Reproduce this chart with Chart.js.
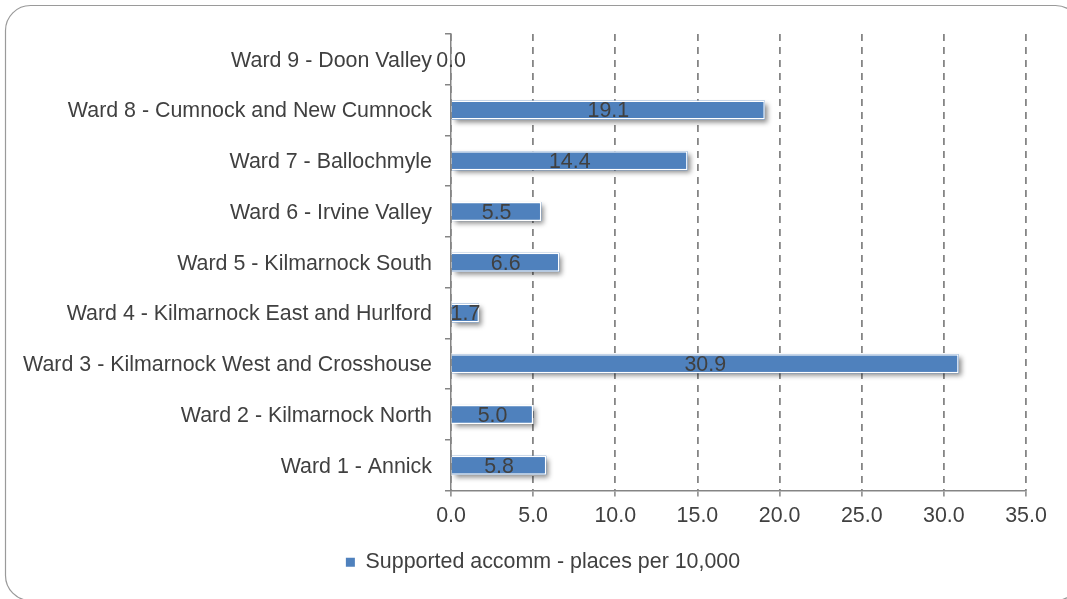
<!DOCTYPE html>
<html>
<head>
<meta charset="utf-8">
<title>Supported accommodation by ward</title>
<script src="https://cdn.jsdelivr.net/npm/chart.js@4.4.1/dist/chart.umd.min.js"></script>
<style>
  html, body { margin: 0; padding: 0; background: #fff; }
  #wrap { width: 1067px; height: 599px; }
</style>
</head>
<body>
<div id="wrap"><canvas id="wardChart" width="1067" height="599"></canvas></div>
<script>
  // wards, top to bottom as shown
  const wards = [
    "Ward 9 - Doon Valley",
    "Ward 8 - Cumnock and New Cumnock",
    "Ward 7 - Ballochmyle",
    "Ward 6 - Irvine Valley",
    "Ward 5 - Kilmarnock South",
    "Ward 4 - Kilmarnock East and Hurlford",
    "Ward 3 - Kilmarnock West and Crosshouse",
    "Ward 2 - Kilmarnock North",
    "Ward 1 - Annick"
  ];
  const placesPer10k = [0.0, 19.1, 14.4, 5.5, 6.6, 1.7, 30.9, 5.0, 5.8];
  const seriesName = "Supported accomm - places per 10,000";
  const axisMin = 0;
  const axisMax = 35;
  const axisStep = 5;

  const barBlue = "#4F81BD";
  const textGrey = "#404040";
  const lineGrey = "#858585";
  const fontSize = 21.4;

  Chart.defaults.font.family = '"Liberation Sans", Arial, sans-serif';
  Chart.defaults.font.size = fontSize;
  Chart.defaults.color = textGrey;

  // rounded frame round the whole chart
  const framePlugin = {
    id: "frame",
    beforeDraw(chart) {
      const ctx = chart.ctx;
      ctx.save();
      ctx.fillStyle = "#fff";
      ctx.fillRect(0, 0, chart.width, chart.height);
      ctx.strokeStyle = "#9a9a9a";
      ctx.lineWidth = 1.2;
      ctx.beginPath();
      ctx.roundRect(5.5, 5.5, 1075, 595, 25);
      ctx.stroke();
      ctx.restore();
    }
  };

  // legend sits in the middle of the frame, not of the plot
  const legendShift = {
    id: "legendShift",
    afterLayout(chart) {
      const lg = chart.legend;
      if (!lg) return;
      lg.left += 30;
      lg.right += 30;
    }
  };

  // soft drop shadow under each bar
  const shadowPlugin = {
    id: "barShadow",
    beforeDatasetsDraw(chart) {
      const ctx = chart.ctx;
      const meta = chart.getDatasetMeta(0);
      ctx.save();
      ctx.shadowColor = "rgba(0,0,0,0.45)";
      ctx.shadowBlur = 5;
      ctx.shadowOffsetX = 3;
      ctx.shadowOffsetY = 3;
      ctx.fillStyle = barBlue;
      meta.data.forEach(bar => {
        const w = Math.abs(bar.x - bar.base);
        if (w < 1) return;
        ctx.fillRect(Math.min(bar.x, bar.base), bar.y - bar.height / 2, w, bar.height);
      });
      ctx.restore();
    }
  };

  // value written in the middle of each bar
  const valueLabels = {
    id: "valueLabels",
    afterDatasetsDraw(chart) {
      const ctx = chart.ctx;
      const meta = chart.getDatasetMeta(0);
      const values = chart.data.datasets[0].data;
      ctx.save();
      ctx.font = fontSize + 'px "Liberation Sans", Arial, sans-serif';
      ctx.fillStyle = textGrey;
      ctx.textAlign = "center";
      ctx.textBaseline = "middle";
      meta.data.forEach((bar, i) => {
        ctx.fillText(values[i].toFixed(1), (bar.x + bar.base) / 2, bar.y + 1.5);
      });
      ctx.restore();
    }
  };

  new Chart(document.getElementById("wardChart"), {
    type: "bar",
    data: {
      labels: wards,
      datasets: [{
        label: seriesName,
        data: placesPer10k,
        backgroundColor: barBlue,
        borderColor: "#ffffff",
        borderWidth: 1.5,
        barPercentage: 0.375,
        categoryPercentage: 1
      }]
    },
    options: {
      indexAxis: "y",
      responsive: false,
      animation: false,
      devicePixelRatio: 1,
      layout: { padding: { left: 0, right: 41, top: 34, bottom: 16 } },
      scales: {
        x: {
          min: axisMin,
          max: axisMax,
          afterFit: scale => { scale.height = 51; },
          ticks: {
            stepSize: axisStep,
            padding: 7,
            color: textGrey,
            callback: v => Number(v).toFixed(1)
          },
          grid: {
            color: lineGrey,
            lineWidth: 1.8,
            tickLength: 6,
            tickColor: lineGrey,
            tickWidth: 1.5
          },
          border: { color: lineGrey, width: 1.5, dash: [7, 6] }
        },
        y: {
          afterFit: scale => { scale.width = 451; },
          ticks: { padding: 13, color: textGrey, autoSkip: false, labelOffset: 1.5 },
          grid: {
            drawOnChartArea: false,
            offset: true,
            tickLength: 6,
            color: lineGrey,
            lineWidth: 1.5
          },
          border: { color: lineGrey, width: 1.5 }
        }
      },
      plugins: {
        legend: {
          position: "bottom",
          labels: {
            boxWidth: 9,
            boxHeight: 9,
            padding: 10,
            color: textGrey,
            generateLabels: chart =>
              Chart.defaults.plugins.legend.labels.generateLabels(chart)
                .map(item => Object.assign(item, { lineWidth: 0, strokeStyle: barBlue }))
          }
        },
        tooltip: { enabled: false }
      }
    },
    plugins: [framePlugin, legendShift, shadowPlugin, valueLabels]
  });
</script>
</body>
</html>
